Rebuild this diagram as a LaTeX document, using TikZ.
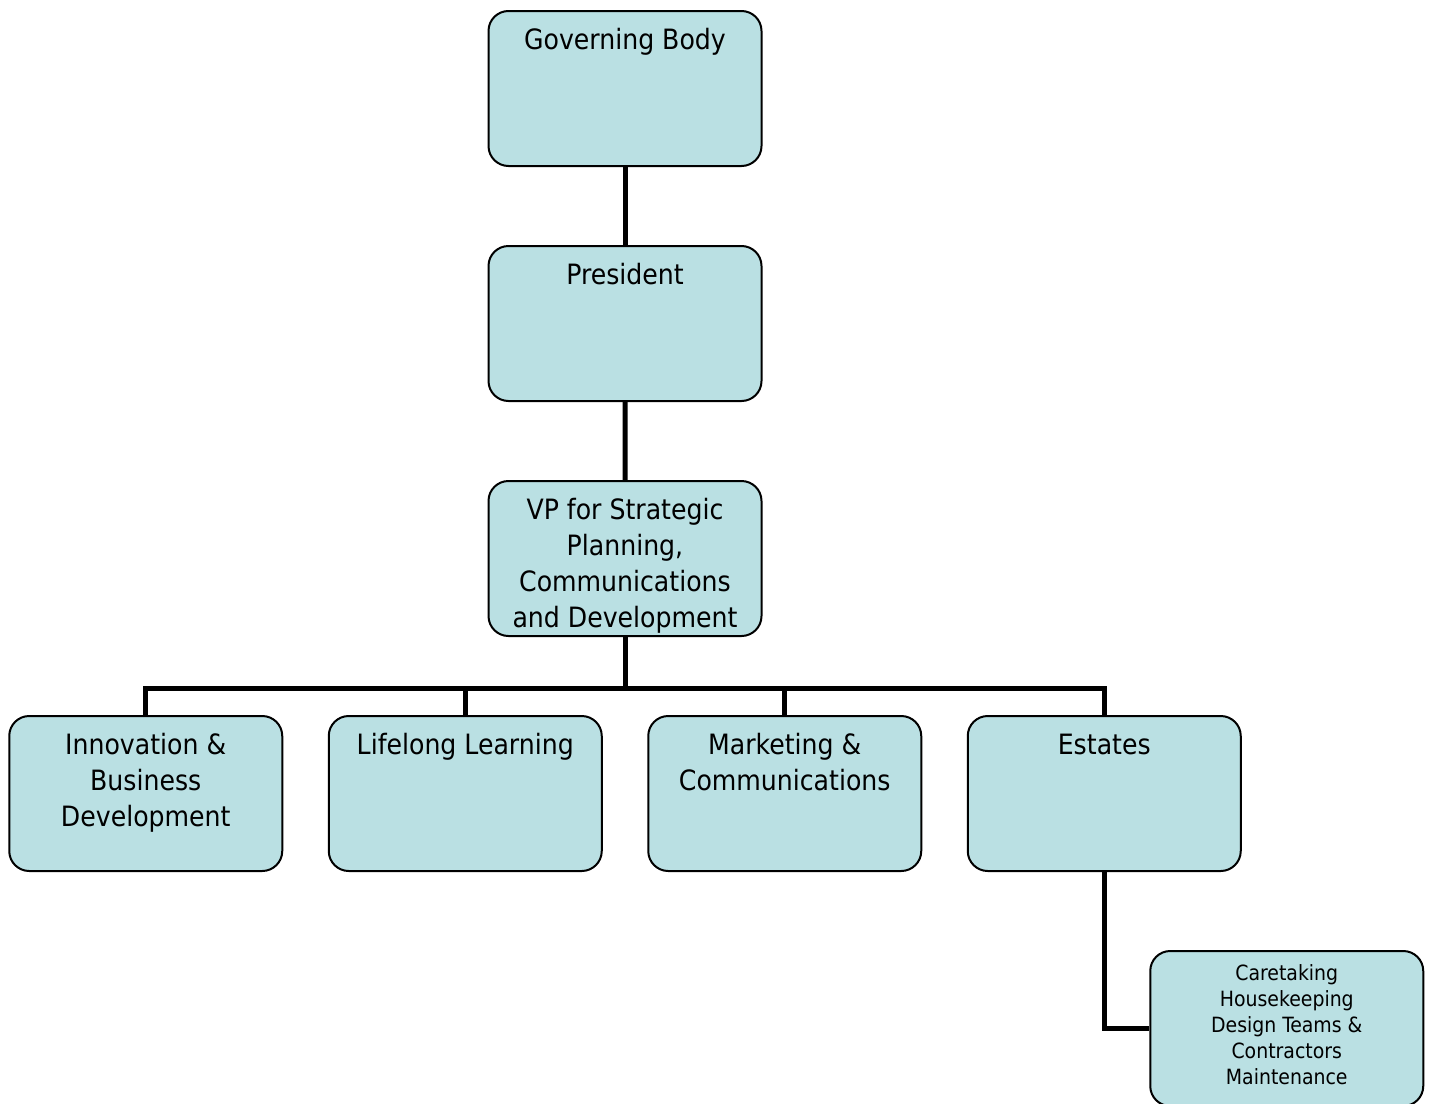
\documentclass[tikz,border=0pt]{standalone}
\usepackage{fontspec}
\setmainfont{DejaVu Sans Condensed}
\definecolor{boxfill}{HTML}{BAE0E3}
\newcommand{\unitlabel}[1]{\parbox[c][77.5pt][t]{136.5pt}{\centering\rule{0pt}{19pt}#1\par}}
\newcommand{\teamlabel}[1]{\parbox[c][77.5pt][t]{136.5pt}{\centering\rule{0pt}{14.5pt}#1\par}}
\begin{document}
\begin{tikzpicture}[every node/.style={draw,line width=1pt,rounded corners=10pt,fill=boxfill,
    minimum width=136.5pt,minimum height=77.5pt,inner sep=0pt,font=\fontsize{14}{18}\selectfont},
  edge from parent/.style={draw,line width=2.5pt},
  level distance=117.5pt,
  level 3/.style={sibling distance=159.75pt,
    edge from parent path={(\tikzparentnode.south) -- ++(0,-25.5pt) -| (\tikzchildnode.north)}}]
\useasboundingbox (0,0) rectangle (717pt,-551.5pt);
\node (gb) at (312.5pt,-44.25pt) {\unitlabel{Governing Body}}
    child{
        node (pres) {\unitlabel{President}}
            child{
                node (vp) {\unitlabel{VP for Strategic\\ Planning,\\ Communications\\ and Development}}
                    child{
                        node (ibd) {\unitlabel{Innovation \&\\ Business\\ Development}}
                    }
                    child{
                        node (ll) {\unitlabel{Lifelong Learning}}
                    }
                    child{
                        node (mc) {\unitlabel{Marketing \&\\ Communications}}
                    }
                    child{
                        node (est) {\unitlabel{Estates}}
                            child[xshift=91.25pt,
                              edge from parent path={(\tikzparentnode.south) |- (\tikzchildnode.west)}]{
                                node[font=\fontsize{10.5}{13}\selectfont] (care)
                                  {\teamlabel{Caretaking\\ Housekeeping\\ Design Teams \&\\ Contractors\\ Maintenance}}
                            }
                    }
            }
    };
\end{tikzpicture}
\end{document}
